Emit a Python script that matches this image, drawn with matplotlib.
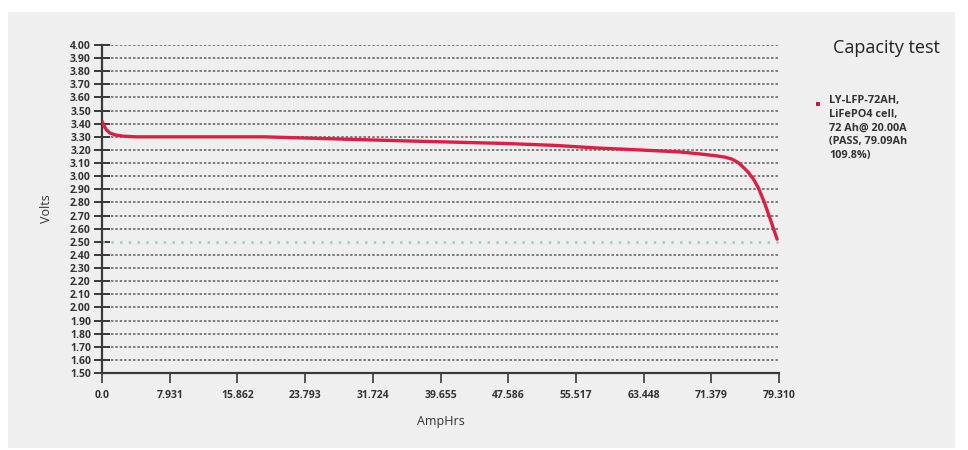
import matplotlib

matplotlib.use("Agg")
import matplotlib.pyplot as plt
import numpy as np
from matplotlib.patches import Rectangle

# discharge curve
amp_hours = [0.0, 0.2, 0.5, 0.9, 1.5, 2.5, 4.0, 12.0, 19.0, 27.0, 35.0, 41.0, 47.0,
             53.0, 58.0, 63.0, 67.7, 70.0, 72.0, 73.0, 73.8, 74.5, 75.1, 75.7,
             76.3, 76.9, 77.6, 78.3, 79.09]
volts = [3.42, 3.39, 3.355, 3.33, 3.315, 3.305, 3.30, 3.30, 3.30, 3.285, 3.27, 3.26,
         3.25, 3.235, 3.215, 3.20, 3.185, 3.17, 3.155, 3.145, 3.13, 3.105, 3.07, 3.03,
         2.98, 2.91, 2.80, 2.67, 2.52]
cutoff = 2.50

x_ticks = [0.0, 7.931, 15.862, 23.793, 31.724, 39.655, 47.586, 55.517, 63.448, 71.379, 79.310]
x_tick_labels = ["0.0", "7.931", "15.862", "23.793", "31.724", "39.655", "47.586",
                 "55.517", "63.448", "71.379", "79.310"]
y_ticks = np.round(np.arange(1.50, 4.001, 0.10), 2)

legend_text = "LY-LFP-72AH,\nLiFePO4 cell,\n72 Ah@ 20.00A\n(PASS, 79.09Ah\n109.8%)"

plt.rcParams["font.family"] = ["Open Sans", "DejaVu Sans"]

fig = plt.figure(figsize=(9.68, 4.5), dpi=100)
fig.patch.set_facecolor("white")
fig.add_artist(Rectangle((8 / 968, 2 / 450), 947 / 968, 436 / 450, transform=fig.transFigure,
                         facecolor="#efefef", edgecolor="none", zorder=0))

ax = fig.add_axes([102 / 968, 1 - 373 / 450, 677 / 968, 328 / 450])
ax.set_facecolor("#efefef")

for y in y_ticks[1:]:
    if abs(y - cutoff) < 1e-6:
        continue
    ax.axhline(y, color="#5a5a5a", lw=1.1, ls=(0, (1.6, 1.3)), zorder=1)
ax.axhline(cutoff, color="#8fd6b0", lw=1.8, ls=(0, (1, 2.5)), zorder=2)

ax.plot(amp_hours, volts, color="#dc1f45", lw=2.4, solid_capstyle="round",
        solid_joinstyle="round", zorder=3)

ax.set_xlim(0, 79.310)
ax.set_ylim(1.50, 4.00)
ax.set_xticks(x_ticks)
ax.set_xticklabels(x_tick_labels)
ax.set_yticks(y_ticks)
ax.set_yticklabels([f"{v:.2f}" for v in y_ticks])

for s in ("top", "right"):
    ax.spines[s].set_visible(False)
for s in ("left", "bottom"):
    ax.spines[s].set_color("#3a3a3a")
    ax.spines[s].set_linewidth(1.6)

ax.tick_params(axis="y", direction="inout", length=12, width=1.4, color="#3a3a3a",
               labelsize=7.5, labelcolor="#333333", pad=2)
ax.tick_params(axis="x", direction="out", length=7, width=1.2, color="#3a3a3a",
               labelsize=7.5, labelcolor="#333333", pad=5)
for lbl in ax.get_xticklabels() + ax.get_yticklabels():
    lbl.set_fontweight("bold")

ax.set_ylabel("Volts", fontsize=9, color="#333333", labelpad=12)
ax.set_xlabel("AmpHrs", fontsize=9, color="#333333", labelpad=10)

fig.text(886 / 968, 1 - 48 / 450, "Capacity test", fontsize=13, color="#222222",
         ha="center", va="center")
fig.add_artist(Rectangle((816 / 968, 1 - 106 / 450), 4 / 968, 4 / 450, transform=fig.transFigure,
                         facecolor="#c81e3c", edgecolor="none"))
fig.text(829 / 968, 1 - 95 / 450, legend_text, fontsize=7.8, color="#333333",
         fontweight="bold", ha="left", va="top", linespacing=1.35)

fig.savefig("out.png", dpi=100, facecolor=fig.get_facecolor())
plt.close(fig)
